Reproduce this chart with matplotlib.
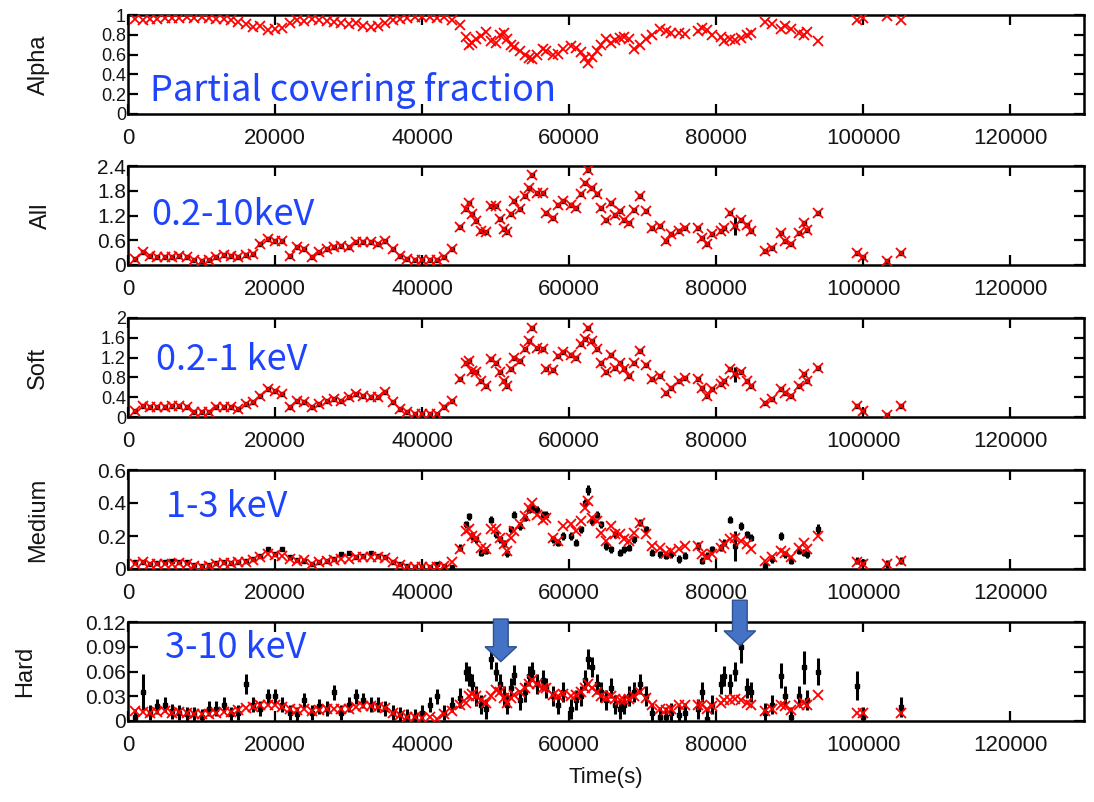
import numpy as np
import matplotlib
matplotlib.use("Agg")
from matplotlib import pyplot as plt
from matplotlib import transforms
from matplotlib.patches import FancyArrow

nan = np.nan

# time bins (ks)
t_ks = [1, 2, 3, 4, 5, 6, 7, 8, 9, 10,
        11, 12, 13, 14, 15, 16, 17, 18, 19, 20,
        21, 22, 23, 24, 25, 26, 27, 28, 29, 30,
        31, 32, 33, 34, 35, 36, 37, 38, 39, 40,
        41, 42, 43, 44,
        45.1, 45.9, 46.4, 46.8, 47.3, 48.0, 48.7, 49.4, 50.1, 50.6,
        51.1, 51.6, 52.1, 52.5, 53.3, 54.0, 54.5, 54.9, 55.6, 56.4,
        56.8, 57.8, 58.5, 59.2, 60.2, 60.9, 61.6, 62.1, 62.6, 63.1,
        63.8, 64.3, 65.0, 65.7, 66.2, 66.9, 67.4, 68.1, 68.8, 69.6,
        70.5, 71.2, 72.4, 73.2, 73.9, 74.9, 75.8, 77.5, 78.0, 78.7,
        79.4, 80.6, 81.1, 81.8, 82.5, 83.3, 84.2, 84.7, 86.6, 87.6,
        88.8, 89.3, 90.2, 91.2, 91.9, 92.4, 93.8, 99.1, 99.9, 103.2,
        105.1]

# partial covering fraction (model only)
alpha = [0.96, 0.95, 0.96, 0.96, 0.97, 0.97, 0.97, 0.98, 0.97, 0.98,
         0.97, 0.96, 0.96, 0.95, 0.93, 0.91, 0.88, 0.89, 0.85, 0.86,
         0.87, 0.92, 0.95, 0.94, 0.96, 0.95, 0.94, 0.93, 0.92, 0.91,
         0.92, 0.89, 0.88, 0.89, 0.92, 0.95, 0.96, 0.97, 0.98, 0.98,
         0.98, 0.97, 0.98, 0.95,
         0.90, 0.78, 0.70, 0.72, 0.76, 0.79, 0.83, 0.74, 0.72, 0.80,
         0.82, 0.76, 0.70, 0.68, 0.64, 0.60, 0.57, 0.56, 0.60, 0.66,
         0.64, 0.60, 0.61, 0.66, 0.69, 0.67, 0.63, 0.57, 0.52, 0.58,
         0.64, 0.70, 0.76, 0.72, 0.75, 0.77, 0.78, 0.76, 0.66, 0.70,
         0.76, 0.80, 0.86, 0.84, 0.82, 0.82, 0.81, 0.84, 0.87, 0.85,
         0.80, 0.78, 0.74, 0.76, 0.75, 0.77, 0.80, 0.82, 0.93, 0.91,
         0.86, 0.89, 0.86, 0.82, 0.80, 0.83, 0.74, 0.95, 0.97, 0.99,
         0.95]

# 0.2-10 keV (data and model overlap)
all_rate = [0.15, 0.31, 0.23, 0.19, 0.19, 0.19, 0.23, 0.19, 0.13, 0.09,
            0.13, 0.19, 0.25, 0.23, 0.19, 0.25, 0.27, 0.50, 0.63, 0.59,
            0.59, 0.23, 0.43, 0.39, 0.19, 0.31, 0.39, 0.43, 0.47, 0.43,
            0.55, 0.55, 0.55, 0.51, 0.59, 0.39, 0.23, 0.15, 0.13, 0.12,
            0.12, 0.11, 0.19, 0.39,
            0.91, 1.35, 1.51, 1.23, 1.07, 0.83, 0.79, 1.43, 1.43, 1.11,
            0.87, 0.79, 1.23, 1.55, 1.35, 1.67, 1.87, 2.19, 1.75, 1.75,
            1.26, 1.14, 1.46, 1.55, 1.46, 1.38, 1.71, 1.99, 2.31, 1.87,
            1.71, 1.38, 1.10, 1.50, 1.22, 1.30, 1.10, 1.02, 1.34, 1.67,
            1.30, 0.90, 0.94, 0.58, 0.74, 0.82, 0.90, 0.90, 0.66, 0.50,
            0.74, 0.82, 0.90, 1.26, 0.94, 1.10, 0.98, 0.82, 0.33, 0.41,
            0.78, 0.58, 0.50, 0.78, 1.02, 0.86, 1.26, 0.30, 0.19, 0.09,
            0.30]
all_err = [0.02] * 44 + [0.045] * 71
all_err[98] = 0.22

# 0.2-1 keV
soft_rate = [0.13, 0.23, 0.20, 0.20, 0.20, 0.22, 0.22, 0.20, 0.10, 0.10,
             0.10, 0.20, 0.20, 0.20, 0.17, 0.27, 0.30, 0.43, 0.57, 0.53,
             0.47, 0.20, 0.33, 0.30, 0.20, 0.27, 0.33, 0.37, 0.33, 0.40,
             0.47, 0.43, 0.40, 0.40, 0.50, 0.30, 0.17, 0.10, 0.07, 0.07,
             0.07, 0.07, 0.20, 0.33,
             0.77, 1.10, 1.13, 0.93, 0.90, 0.73, 0.63, 1.17, 1.10, 0.90,
             0.73, 0.63, 0.97, 1.20, 1.13, 1.37, 1.53, 1.80, 1.40, 1.37,
             0.97, 0.95, 1.23, 1.32, 1.26, 1.20, 1.47, 1.57, 1.80, 1.53,
             1.37, 1.10, 0.90, 1.26, 1.00, 1.10, 0.96, 0.83, 1.10, 1.33,
             1.06, 0.76, 0.83, 0.49, 0.59, 0.73, 0.79, 0.76, 0.59, 0.42,
             0.56, 0.66, 0.73, 0.96, 0.86, 0.90, 0.73, 0.63, 0.29, 0.36,
             0.56, 0.49, 0.42, 0.63, 0.86, 0.73, 1.00, 0.22, 0.12, 0.05,
             0.22]
soft_err = [0.02] * 44 + [0.04] * 71
soft_err[98] = 0.16

# 1-3 keV
med_data = [0.04, 0.04, 0.03, 0.035, 0.045, 0.05, 0.045, 0.04, 0.025, 0.02,
            0.025, 0.035, 0.04, 0.035, 0.04, 0.05, 0.06, 0.08, 0.12, 0.09,
            0.12, 0.07, 0.055, 0.05, 0.03, 0.04, 0.05, 0.06, 0.09, 0.10,
            0.07, 0.08, 0.10, 0.08, 0.07, 0.045, 0.03, 0.02, 0.01, 0.01,
            0.015, 0.03, 0.02, 0.01,
            0.13, 0.27, 0.32, 0.20, 0.18, 0.10, 0.11, 0.30, 0.21, 0.18,
            0.155, 0.095, 0.24, 0.33, 0.26, 0.31, 0.36, 0.37, 0.36, 0.33,
            0.33, 0.18, 0.16, 0.20, 0.20, 0.16, 0.24, 0.40, 0.48, 0.29,
            0.33, 0.27, 0.14, 0.12, 0.21, 0.10, 0.12, 0.13, 0.18, 0.28,
            0.24, 0.10, 0.09, 0.08, 0.09, 0.06, 0.08, 0.14, 0.05, 0.08,
            0.12, 0.13, 0.16, 0.30, 0.14, 0.26, 0.21, 0.19, 0.02, 0.06,
            0.20, 0.09, 0.05, 0.11, 0.10, 0.09, 0.24, 0.05, 0.04, 0.03,
            0.05]
med_model = [0.03, 0.04, 0.03, 0.03, 0.03, 0.03, 0.035, 0.03, 0.02, 0.015,
             0.02, 0.03, 0.035, 0.035, 0.04, 0.045, 0.055, 0.07, 0.09, 0.085,
             0.08, 0.06, 0.05, 0.055, 0.03, 0.04, 0.05, 0.055, 0.06, 0.06,
             0.07, 0.075, 0.075, 0.07, 0.065, 0.04, 0.025, 0.015, 0.01, 0.01,
             0.01, 0.01, 0.02, 0.04,
             0.12, 0.23, 0.24, 0.20, 0.19, 0.13, 0.12, 0.24, 0.24, 0.19,
             0.15, 0.11, 0.19, 0.23, 0.27, 0.32, 0.37, 0.40, 0.33, 0.30,
             0.31, 0.19, 0.17, 0.26, 0.27, 0.23, 0.29, 0.37, 0.41, 0.31,
             0.29, 0.22, 0.17, 0.26, 0.21, 0.21, 0.18, 0.17, 0.22, 0.28,
             0.21, 0.14, 0.13, 0.10, 0.11, 0.12, 0.14, 0.14, 0.09, 0.07,
             0.09, 0.13, 0.15, 0.18, 0.19, 0.17, 0.15, 0.12, 0.05, 0.07,
             0.11, 0.10, 0.07, 0.13, 0.16, 0.12, 0.20, 0.04, 0.03, 0.03,
             0.05]
med_err = [0.012] * 44 + [0.022] * 71
med_err[98] = 0.09
med_err[72] = 0.03
med_err[110] = 0.03

# 3-10 keV
hard_data = [0.005, 0.035, 0.01, 0.018, 0.02, 0.012, 0.01, 0.008, 0.008, 0.005,
             0.015, 0.015, 0.02, 0.008, 0.01, 0.045, 0.02, 0.015, 0.03, 0.03,
             0.02, 0.01, 0.008, 0.025, 0.01, 0.018, 0.015, 0.035, 0.01, 0.02,
             0.03, 0.025, 0.02, 0.02, 0.015, 0.01, 0.008, 0.005, 0.005, 0.01,
             0.02, 0.03, 0.01, 0.02,
             0.028, 0.060, 0.055, 0.045, 0.030, 0.020, 0.015, 0.075, 0.060, 0.045,
             0.030, 0.020, 0.040, 0.056, 0.025, 0.035, 0.055, 0.060, 0.045, 0.050,
             0.040, 0.030, 0.020, 0.035, 0.015, 0.025, 0.030, 0.050, 0.075, 0.065,
             0.045, 0.035, 0.025, 0.040, 0.020, 0.015, 0.020, 0.030, 0.035, 0.045,
             0.030, 0.010, 0.005, 0.005, 0.010, 0.007, 0.010, 0.015, 0.035, 0.003,
             0.020, 0.045, 0.055, 0.045, 0.060, 0.090, 0.040, 0.035, 0.010, 0.020,
             0.055, 0.030, 0.005, 0.030, 0.065, 0.025, 0.060, 0.043, 0.005, nan,
             0.017]
hard_model = [0.012, 0.011, 0.01, 0.011, 0.012, 0.01, 0.011, 0.01, 0.009, 0.008,
              0.009, 0.01, 0.011, 0.011, 0.013, 0.016, 0.017, 0.019, 0.02, 0.019,
              0.017, 0.015, 0.013, 0.014, 0.012, 0.013, 0.014, 0.015, 0.014, 0.015,
              0.017, 0.018, 0.018, 0.017, 0.016, 0.01, 0.007, 0.005, 0.005, 0.004,
              0.005, 0.003, 0.008, 0.012,
              0.020, 0.022, 0.030, 0.033, 0.030, 0.025, 0.022, 0.030, 0.037, 0.035,
              0.028, 0.022, 0.028, 0.032, 0.035, 0.040, 0.045, 0.050, 0.045, 0.040,
              0.040, 0.032, 0.030, 0.033, 0.030, 0.032, 0.035, 0.040, 0.045, 0.040,
              0.035, 0.030, 0.028, 0.030, 0.027, 0.025, 0.025, 0.027, 0.030, 0.035,
              0.028, 0.020, 0.015, 0.013, 0.015, 0.020, 0.020, 0.020, 0.020, 0.015,
              0.018, 0.022, 0.025, 0.025, 0.027, 0.025, 0.022, 0.020, 0.012, 0.015,
              0.020, 0.018, 0.013, 0.020, 0.022, 0.020, 0.032, 0.010, 0.010, nan,
              0.010]
hard_err = [0.009] * 44 + [0.012] * 71
hard_err[1] = 0.022
hard_err[15] = 0.012
hard_err[99] = 0.02
hard_err[104] = 0.015
hard_err[108] = 0.02
hard_err[110] = 0.016
hard_err[111] = 0.018

t = np.array(t_ks) * 1000

names = ["Alpha", "All", "Soft", "Medium", "Hard"]
labels = ["Partial covering fraction", "0.2-10keV", "0.2-1 keV", "1-3 keV", "3-10 keV"]
ytick_vals = [[0, 0.2, 0.4, 0.6, 0.8, 1], [0, 0.6, 1.2, 1.8, 2.4],
              [0, 0.4, 0.8, 1.2, 1.6, 2], [0, 0.2, 0.4, 0.6],
              [0, 0.03, 0.06, 0.09, 0.12]]
ytick_txt = [["0", "0.2", "0.4", "0.6", "0.8", "1"], ["0", "0.6", "1.2", "1.8", "2.4"],
             ["0", "0.4", "0.8", "1.2", "1.6", "2"], ["0", "0.2", "0.4", "0.6"],
             ["0", "0.03", "0.06", "0.09", "0.12"]]
ytick_size = [13, 15, 13, 15, 15]
xtick_vals = [0, 20000, 40000, 60000, 80000, 100000, 120000]

sans = ["Liberation Sans", "DejaVu Sans"]
blue = "#1f45fc"

fig = plt.figure(figsize=(10.94, 8.02), dpi=100)

tops = [15, 166, 318, 470, 622]
h = 99
label_x = [-0.082, -0.080, -0.083, -0.082, -0.096]
text_pos = [(0.023, 0.13), (0.024, 0.40), (0.029, 0.47), (0.040, 0.53), (0.039, 0.64)]

axes = []
for i in range(5):
    ax = fig.add_axes([128 / 1094, 1 - (tops[i] + h) / 802, 956 / 1094, h / 802])
    axes.append(ax)
    ax.set_xlim(0, 130000)
    ax.set_ylim(ytick_vals[i][0], ytick_vals[i][-1])
    ax.set_xticks(xtick_vals)
    ax.set_xticklabels([str(v) for v in xtick_vals], family=sans, fontsize=16, color="#151515")
    ax.set_yticks(ytick_vals[i])
    ax.set_yticklabels(ytick_txt[i], family=sans, fontsize=ytick_size[i], color="#151515")
    ax.tick_params(direction="in", length=7.5, width=1.6, top=True, right=True)
    ax.tick_params(axis="x", pad=10)
    ax.tick_params(axis="y", pad=1.5)
    for s in ax.spines.values():
        s.set_linewidth(1.8)
    ax.set_ylabel(names[i], family=sans, fontsize=17, color="#151515")
    ax.yaxis.set_label_coords(label_x[i], 0.5)
    ax.text(text_pos[i][0], text_pos[i][1], labels[i], transform=ax.transAxes,
            family=["Noto Sans CJK JP", "DejaVu Sans"], fontsize=26, color=blue,
            va="baseline", ha="left", zorder=5)

# panel 1: covering fraction
axes[0].plot(t, alpha, "x", color="red", ms=6.5, mew=1.3, zorder=3)

# panels 2-5: data (black) and model (red)
data_sets = [(all_rate, all_err, all_rate), (soft_rate, soft_err, soft_rate),
             (med_data, med_err, med_model), (hard_data, hard_err, hard_model)]
for ax, (d, e, m) in zip(axes[1:], data_sets):
    ax.errorbar(t, d, yerr=e, fmt="s", ms=3.5, color="black", ecolor="black",
                elinewidth=2.2, capsize=0, zorder=2)
    ax.plot(t, m, "x", color="red", ms=6.5, mew=1.3, zorder=3)

axes[4].set_xlabel("Time(s)", family=sans, fontsize=16, color="#151515", labelpad=8)

# block arrows on the hard panel
ax = axes[4]
trans = transforms.blended_transform_factory(ax.transData, ax.transAxes)
arrows = [(50700, 1.03, 0.60), (83200, 1.22, 0.76)]
for xa, ytop, ytip in arrows:
    arr = FancyArrow(xa, ytop, 0, ytip - ytop, width=2000, head_width=4300,
                     head_length=0.15, length_includes_head=True,
                     facecolor="#4472c4", edgecolor="#2f528f", lw=1,
                     transform=trans, clip_on=False, zorder=6)
    ax.add_patch(arr)

fig.savefig("out.png", dpi=100)
